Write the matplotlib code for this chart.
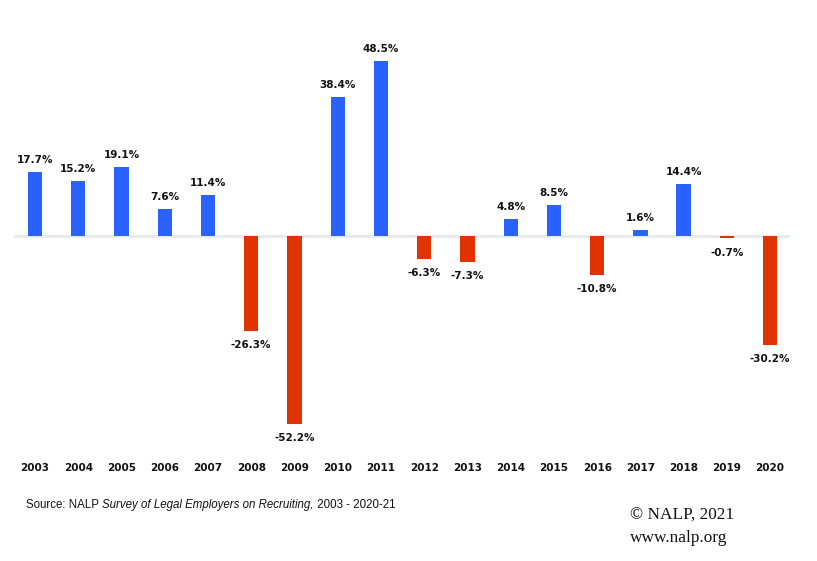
import matplotlib
matplotlib.use("Agg")
import matplotlib.pyplot as plt
from matplotlib.transforms import blended_transform_factory

years = ["2003", "2004", "2005", "2006", "2007", "2008", "2009", "2010", "2011",
         "2012", "2013", "2014", "2015", "2016", "2017", "2018", "2019", "2020"]
values = [17.7, 15.2, 19.1, 7.6, 11.4, -26.3, -52.2, 38.4, 48.5,
          -6.3, -7.3, 4.8, 8.5, -10.8, 1.6, 14.4, -0.7, -30.2]

BLUE = "#2962FF"
RED = "#E03300"

W, H = 817, 561
fig = plt.figure(figsize=(W / 100, H / 100), dpi=100)
ax = fig.add_axes([14 / W, (H - 450) / H, (790 - 14) / W, 420 / H])

x = list(range(len(years)))
colors = [BLUE if v >= 0 else RED for v in values]
ax.bar(x, values, width=0.33, color=colors, zorder=3)
ax.axhline(0, color="#E3E8EC", lw=1.8, zorder=2)

ax.set_xlim(-0.486, 17.46)
ax.set_ylim(-59.3, 57.06)
ax.axis("off")

for xi, v in zip(x, values):
    if v >= 0:
        ax.annotate(f"{v:.1f}%", (xi, v), xytext=(0, 5), textcoords="offset points",
                    ha="center", va="bottom", fontsize=7.5, fontweight="bold",
                    color="#111111", family="DejaVu Sans")
    else:
        ax.annotate(f"{v:.1f}%", (xi, v), xytext=(0, -6.5), textcoords="offset points",
                    ha="center", va="top", fontsize=7.5, fontweight="bold",
                    color="#111111", family="DejaVu Sans")

trans = blended_transform_factory(ax.transData, fig.transFigure)
for xi, yl in zip(x, years):
    ax.text(xi, 1 - 468 / H, yl, transform=trans, ha="center", va="center",
            fontsize=7.5, fontweight="bold", color="#111111", family="DejaVu Sans")

FS = 8.3
ys = 1 - 505 / H
t0 = fig.text(26 / W, ys, "Source: NALP ", ha="left", va="center",
              fontsize=FS, family="Liberation Sans", color="#111111")
fig.canvas.draw()
r = fig.canvas.get_renderer()
bb = t0.get_window_extent(r)
t1 = fig.text(bb.x1 / W, ys, "Survey of Legal Employers on Recruiting,",
              ha="left", va="center", fontsize=FS, family="Liberation Sans",
              style="italic", color="#111111")
bb1 = t1.get_window_extent(r)
fig.text(bb1.x1 / W, ys, " 2003 - 2020-21", ha="left", va="center",
         fontsize=FS, family="Liberation Sans", color="#111111")

fig.text(630 / W, 1 - 516 / H, "© NALP, 2021", ha="left", va="center",
         fontsize=12.4, family="Liberation Serif", color="#111111")
fig.text(630 / W, 1 - 538 / H, "www.nalp.org", ha="left", va="center",
         fontsize=12.4, family="Liberation Serif", color="#111111")

fig.savefig("out.png", dpi=100, facecolor="white")
